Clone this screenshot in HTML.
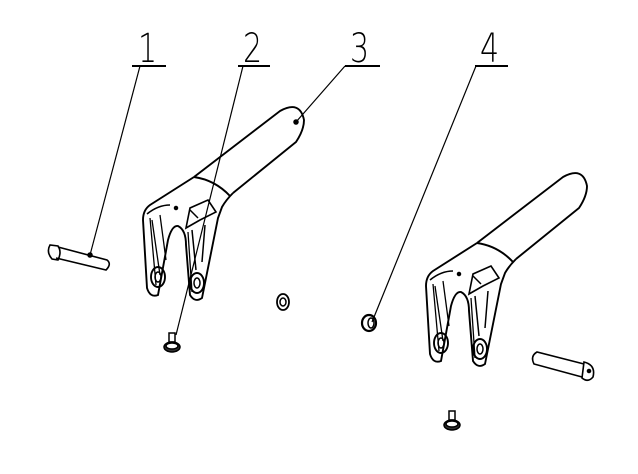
<!DOCTYPE html>
<html><head><style>
html,body{margin:0;padding:0;background:#fff;}
svg{display:block}
text{font-family:"DejaVu Sans","Liberation Sans",sans-serif;font-size:40px;fill:#000;font-weight:200}
</style></head><body>
<svg width="638" height="474" viewBox="0 0 638 474" xmlns="http://www.w3.org/2000/svg">
<g stroke="#000" fill="none" stroke-width="1.5">
<!-- labels -->
<text x="0" y="0" stroke="none" transform="translate(138,62) scale(0.75,1)">1</text>
<text x="0" y="0" stroke="none" transform="translate(243,62) scale(0.75,1)">2</text>
<text x="0" y="0" stroke="none" transform="translate(350,62) scale(0.75,1)">3</text>
<text x="0" y="0" stroke="none" transform="translate(480,62) scale(0.75,1)">4</text>
<line x1="132" y1="66" x2="166" y2="66" stroke-width="2"/>
<line x1="238" y1="66" x2="270" y2="66" stroke-width="2"/>
<line x1="345" y1="66" x2="380" y2="66" stroke-width="2"/>
<line x1="475" y1="66" x2="508" y2="66" stroke-width="2"/>
<!-- leaders -->
<line x1="140" y1="66" x2="90" y2="255" stroke-width="1.2"/>
<line x1="243" y1="66" x2="176" y2="335" stroke-width="1.2"/>
<line x1="345" y1="66" x2="296" y2="122" stroke-width="1.2"/>
<line x1="476" y1="66" x2="372" y2="322" stroke-width="1.2"/>
<circle cx="90" cy="255" r="2" fill="#000"/>
<circle cx="296" cy="122" r="2" fill="#000"/>

<defs>
<g id="fork">
<path d="M194,177 L280,111 Q300,100 304,120 Q304,130 296,142 L233,193" stroke-width="1.9"/>
<path d="M194,177 Q215,180 230,196" stroke-width="1.9"/>
<path d="M194,177 L150,205 Q143,210 143,220 L147,288 Q150,298 158,295 L168,240 Q172,225 178,226 Q186,230 186,245 L190,295 Q195,303 202,298 L218,218 L222,207 Q226,200 233,193" stroke-width="1.9"/>
<path d="M147,214 Q158,205 170,205" stroke-width="1.6"/>
<path d="M186,228 L190,208 L208,200 L216,212 L200,220 Z" stroke-width="1.6"/>
<path d="M190,210 L198,218"/>
<path d="M150,218 L156,285 M152,220 L160,275 M160,215 L166,260" stroke-width="1.3"/>
<path d="M188,232 L192,292" stroke-width="1.3"/>
<ellipse cx="158" cy="277" rx="7" ry="10" stroke-width="1.9"/>
<ellipse cx="158" cy="277" rx="3" ry="5"/>
<ellipse cx="197" cy="283" rx="7" ry="10" stroke-width="1.9"/>
<ellipse cx="197" cy="283" rx="3" ry="5"/>
<path d="M192,230 L196,270 M205,225 L202,262"/>
<circle cx="176" cy="208" r="1.5" fill="#000"/>
</g>
<g id="screw">
<path d="M-3,-12 L3,-12 L3,-3 L-3,-3 Z"/>
<ellipse cx="0" cy="2" rx="8" ry="5" fill="#333"/>
<ellipse cx="0" cy="1" rx="6" ry="3" fill="#fff"/>
</g>
</defs>
<use href="#fork"/>
<use href="#fork" transform="translate(283,66)"/>

<g stroke-width="1.6">
<path d="M58,247 L107,260 Q112,264 106,270 L56,258"/>
<path d="M50,245 Q46,252 52,259 L58,260 Q62,252 58,246 Z"/>
</g>
<g stroke-width="1.6">
<path d="M584,364 L537,352 Q530,356 534,364 L582,377"/>
<path d="M584,362 Q596,365 593,377 Q588,383 582,378 Z"/>
<circle cx="589" cy="371" r="1.5" fill="#000"/>
</g>
<ellipse cx="283" cy="302" rx="6" ry="8" stroke-width="1.8"/>
<ellipse cx="283" cy="302" rx="3" ry="4"/>
<ellipse cx="369" cy="323" rx="7" ry="8" stroke-width="2.2"/>
<ellipse cx="371" cy="323" rx="3" ry="5"/>
<use href="#screw" transform="translate(172,345)"/>
<use href="#screw" transform="translate(452,423)"/>
</g>
</svg>
</body></html>
